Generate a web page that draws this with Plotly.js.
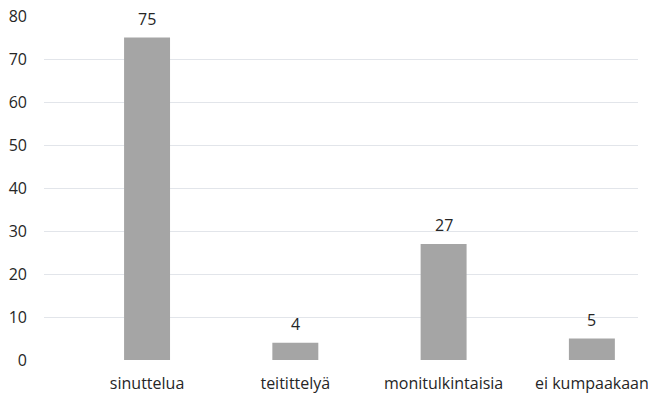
<!DOCTYPE html>
<html>
<head>
<meta charset="utf-8">
<script src="https://cdn.plot.ly/plotly-3.0.1.min.js"></script>
<style>
  html, body { margin: 0; padding: 0; background: #fff; }
  #chart { width: 648px; height: 394px; }
</style>
</head>
<body>
<div id="chart"></div>
<script>
// Survey answers: counts per category
const categories = ["sinuttelua", "teitittelyä", "monitulkintaisia", "ei kumpaakaan"];
const counts = [75, 4, 27, 5];
const yTicks = [0, 10, 20, 30, 40, 50, 60, 70, 80];

const positions = categories.map((_, i) => i);
const FONT = "Open Sans, sans-serif";
const INK = "#262626";

const trace = {
  type: "bar",
  x: positions,
  y: counts,
  width: 0.31,
  marker: { color: "#a5a5a5" },
  hoverinfo: "none"
};

// value labels sitting above each bar
const valueLabels = positions.map((p, i) => ({
  x: p,
  y: counts[i],
  xref: "x",
  yref: "y",
  text: String(counts[i]),
  showarrow: false,
  yanchor: "bottom",
  yshift: 6,
  font: { family: FONT, size: 16, color: INK }
}));

const layout = {
  width: 648,
  height: 394,
  margin: { l: 44, r: 10, t: 16, b: 34 },
  paper_bgcolor: "#ffffff",
  plot_bgcolor: "#ffffff",
  showlegend: false,
  font: { family: FONT, size: 16, color: INK },
  annotations: valueLabels,
  xaxis: {
    range: [-0.695, 3.311],
    tickmode: "array",
    tickvals: positions,
    ticktext: categories,
    showgrid: false,
    zeroline: false,
    showline: false,
    ticks: "",
    ticklabelstandoff: 12,
    ticklabeloverflow: "allow",
    fixedrange: true
  },
  yaxis: {
    range: [0, 80],
    tickmode: "array",
    tickvals: yTicks,
    showgrid: true,
    gridcolor: "#e2e5ea",
    gridwidth: 1,
    zeroline: false,
    showline: false,
    ticks: "",
    ticklabelstandoff: 16,
    fixedrange: true
  }
};

Plotly.newPlot("chart", [trace], layout, { staticPlot: true, displayModeBar: false });
</script>
</body>
</html>
